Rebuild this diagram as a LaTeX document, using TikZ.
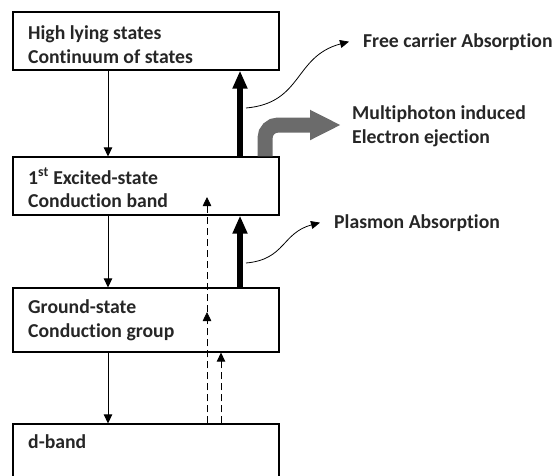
\documentclass[tikz,border=0pt]{standalone}
\usepackage{fontspec}
\setsansfont[Ligatures=NoCommon]{Carlito}
\usetikzlibrary{positioning, arrows.meta}

\begin{document}
\begin{tikzpicture}[x=1pt, y=-1pt,
    level/.style={draw, line width=1.2pt, minimum width=266pt, inner sep=0pt},
    lbl/.style={font=\sffamily\bfseries\fontsize{19.7}{24}\selectfont, text=black!85, anchor=base west, inner sep=0pt},
    relax/.style={-{Triangle[length=9pt, width=8.5pt]}, line width=0.8pt},
    pump/.style={-{Triangle[length=18pt, width=14pt]}, line width=6pt},
    photon/.style={dash pattern=on 7pt off 4pt, -{Triangle[length=9pt, width=8.5pt]}, line width=0.8pt},
    proc/.style={-{Triangle[length=9pt, width=8pt]}, line width=0.8pt},
    eject/.style={-{Triangle[length=31pt, width=28pt]}, line width=15pt, black!58, rounded corners=13pt},
    ]
\useasboundingbox (0,0) rectangle (556,475);
\clip (0,0) rectangle (556,475);

% energy levels
\node[level, minimum height=58pt] (hls) at (146,41) {};
\node[level, minimum height=58pt] (exc) at (146,186) {};
\node[level, minimum height=64pt] (gnd) at (146,320) {};
\node[level, minimum height=76pt] (dnb) at (146,462) {};

\node[lbl] (hls1) at (28,39) {High lying states};
\node[lbl] (hls2) at (28,63) {Continuum of states};
\node[lbl] (exc1) at (28,184) {1\textsuperscript{st} Excited-state};
\node[lbl] (exc2) at (28,207) {Conduction band};
\node[lbl] (gnd1) at (28,313) {Ground-state};
\node[lbl] (gnd2) at (28,337) {Conduction group};
\node[lbl] (dnb1) at (28,448) {d-band};

% process labels
\node[lbl] (fca) at (363,47) {Free carrier Absorption};
\node[lbl] (mpe1) at (352,119) {Multiphoton induced};
\node[lbl] (mpe2) at (352,143) {Electron ejection};
\node[lbl] (pla) at (334,228) {Plasmon Absorption};

\coordinate (down) at (108,0);
\coordinate (up) at (240,0);
\coordinate (phl) at (207,0);
\coordinate (phr) at (221,0);
\coordinate (ej) at (265,0);
\coordinate (ejtip) at (341,125);
\coordinate (ph1) at (207,312);
\coordinate (ph2) at (207,197);
\coordinate (fcs) at (246,108);
\coordinate (pls) at (246,263);

% relaxation
\draw[relax] (hls.south -| down) -- (exc.north -| down);
\draw[relax] (exc.south -| down) -- (gnd.north -| down);
\draw[relax] (gnd.south -| down) -- (dnb.north -| down);

% photons
\draw[photon] (dnb.north -| phr) -- (gnd.south -| phr);
\draw[photon] (dnb.north -| phl) -- (ph1);
\draw[photon] (ph1) -- (ph2);

% absorption
\draw[pump] (gnd.north -| up) -- (exc.south -| up);
\draw[pump] (exc.north -| up) -- (hls.south -| up);
\draw[eject] (exc.north -| ej) |- (ejtip);

\draw[proc] (fcs) to[out=5, in=195, looseness=1.2] ([xshift=-14pt]fca.west);
\draw[proc] (pls) to[out=5, in=195, looseness=1.2] ([xshift=-14pt]pla.west);
\end{tikzpicture}
\end{document}
